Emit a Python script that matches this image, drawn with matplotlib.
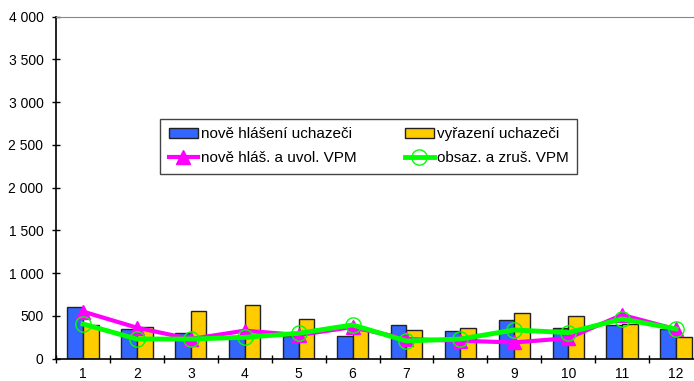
import matplotlib.pyplot as plt
from matplotlib.ticker import FuncFormatter, MultipleLocator
import numpy as np

plt.rcParams['font.family'] = ['Liberation Sans', 'DejaVu Sans']

months = [1, 2, 3, 4, 5, 6, 7, 8, 9, 10, 11, 12]
nove_hlaseni = [609, 344, 301, 266, 270, 262, 391, 328, 457, 355, 398, 352]
vyrazeni = [390, 371, 555, 625, 461, 330, 336, 355, 531, 496, 402, 258]
nove_vpm = [551, 363, 230, 328, 277, 370, 230, 210, 190, 240, 512, 344]
obsaz_vpm = [406, 230, 230, 250, 297, 395, 207, 230, 336, 305, 465, 348]

fig = plt.figure(figsize=(6.94, 3.81), dpi=100)
ax = fig.add_axes([56 / 694, 22.3 / 381, 647 / 694, 342 / 381])

x = np.arange(len(months))
w = 0.29
b1 = ax.bar(x - w / 2, nove_hlaseni, w, color='#3366FF', edgecolor='#222222',
            linewidth=1, label='nově hlášení uchazeči', zorder=2)
b2 = ax.bar(x + w / 2, vyrazeni, w, color='#FFCC00', edgecolor='#222222',
            linewidth=1, label='vyřazení uchazeči', zorder=2)
l1, = ax.plot(x, nove_vpm, color='#FF00FF', lw=3, marker='^', markersize=10,
              label='nově hláš. a uvol. VPM', zorder=3)
l2, = ax.plot(x, obsaz_vpm, color='#00FF00', lw=3.5, marker='o', markersize=11,
              markerfacecolor='none', markeredgewidth=1,
              label='obsaz. a zruš. VPM', zorder=4)

ax.set_xlim(-0.5, 11.5)
ax.set_ylim(0, 4000)
ax.yaxis.set_major_locator(MultipleLocator(500))
ax.yaxis.set_major_formatter(FuncFormatter(lambda v, p: f"{int(v):,}".replace(",", " ")))

ax.set_xticks(x)
ax.set_xticklabels([str(m) for m in months])
ax.set_xticks(np.arange(-0.5, 12, 1), minor=True)
ax.tick_params(axis='x', which='major', length=0, pad=6, labelsize=10)
ax.tick_params(axis='x', which='minor', direction='inout', length=6, width=1)
ax.tick_params(axis='y', direction='inout', length=6, width=1, pad=6, labelsize=10)

ax.spines['right'].set_visible(False)
ax.spines['top'].set_color('#888888')
ax.spines['top'].set_linewidth(0.8)
ax.spines['left'].set_linewidth(1.2)
ax.spines['bottom'].set_linewidth(1.2)

handles = [b1, l1, b2, l2]
leg = ax.legend(handles, [hd.get_label() for hd in handles],
                ncol=2, loc='upper left', bbox_to_anchor=(0.161, 0.543, 0.644, 0.158),
                mode='expand', fancybox=False, edgecolor='#444444', framealpha=1,
                fontsize=11, handlelength=1.9, handletextpad=0.2, borderaxespad=0,
                borderpad=0.55, labelspacing=0.65)
leg.get_frame().set_linewidth(1)

fig.savefig('out.png', dpi=100)
